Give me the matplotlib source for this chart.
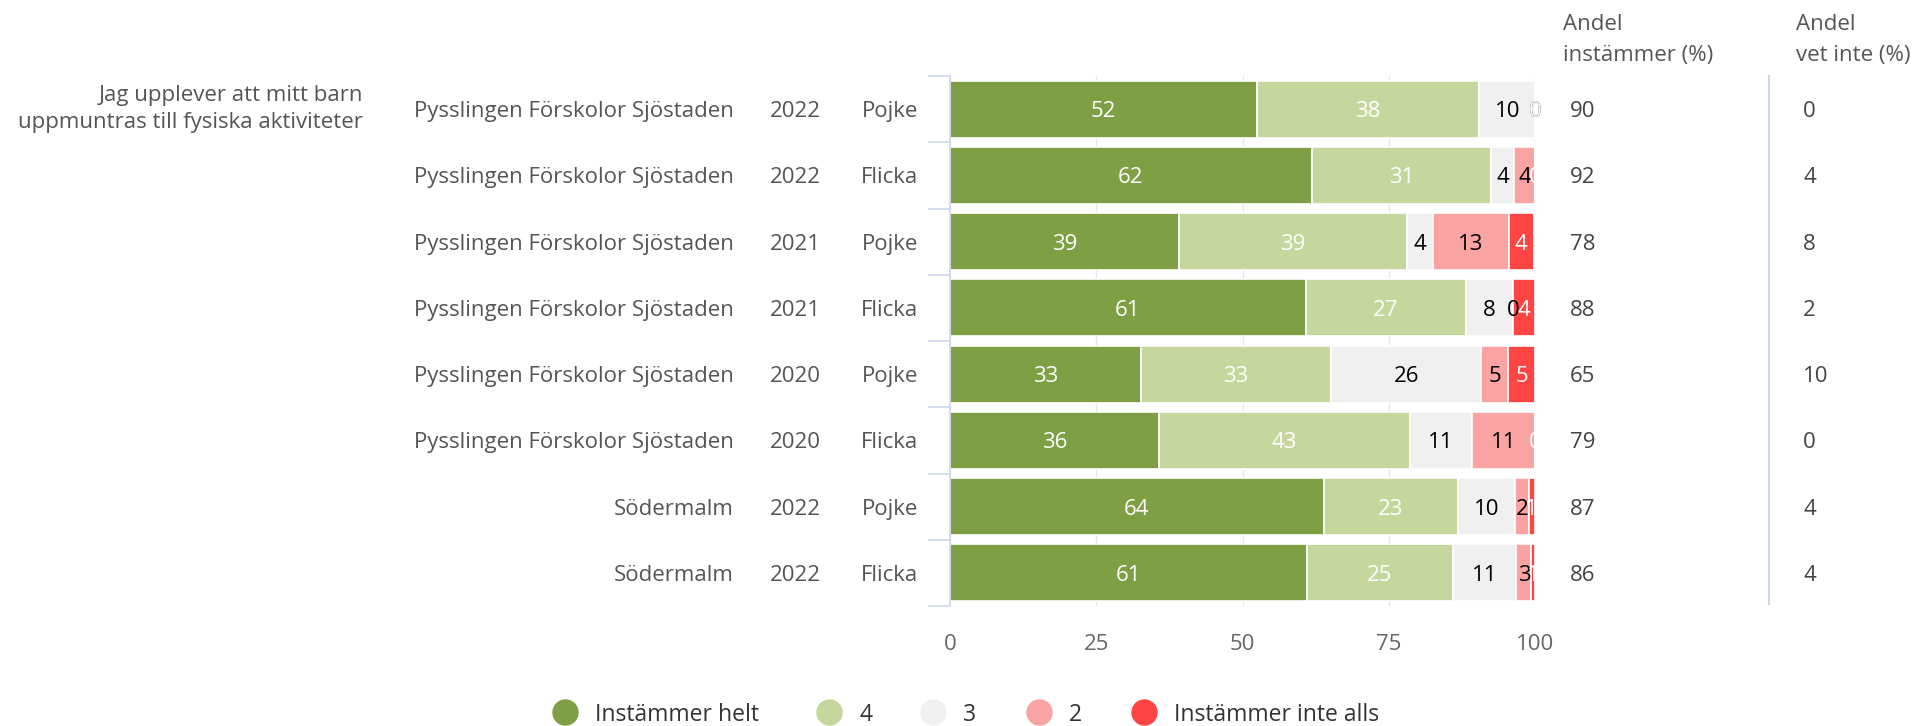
import matplotlib.pyplot as plt
import matplotlib.transforms as mtransforms
from matplotlib.lines import Line2D

## data
question = "Jag upplever att mitt barn\nuppmuntras till fysiska aktiviteter"
units = ["Pysslingen Förskolor Sjöstaden"] * 6 + ["Södermalm"] * 2
years = ["2022", "2022", "2021", "2021", "2020", "2020", "2022", "2022"]
genders = ["Pojke", "Flicka", "Pojke", "Flicka", "Pojke", "Flicka", "Pojke", "Flicka"]

helt = [52.4, 61.8, 39.1, 60.8, 32.6, 35.7, 63.9, 61.0]
fyra = [38.1, 30.7, 39.1, 27.4, 32.6, 42.9, 22.9, 25.0]
tre = [9.5, 3.9, 4.3, 8.1, 25.6, 10.7, 9.8, 10.8]
tva = [0.0, 3.6, 13.0, 0.0, 4.6, 10.7, 2.3, 2.6]
inte = [0.0, 0.0, 4.3, 3.7, 4.6, 0.0, 1.1, 0.6]

helt_lbl = [52, 62, 39, 61, 33, 36, 64, 61]
fyra_lbl = [38, 31, 39, 27, 33, 43, 23, 25]
tre_lbl = [10, 4, 4, 8, 26, 11, 10, 11]
tva_lbl = [0, 4, 13, 0, 5, 11, 2, 3]
inte_lbl = [0, 0, 4, 4, 5, 0, 1, 1]

andel_inst = [90, 92, 78, 88, 65, 79, 87, 86]
andel_vet = [0, 4, 8, 2, 10, 0, 4, 4]

series = ["Instämmer helt", "4", "3", "2", "Instämmer inte alls"]
colors = ["#7f9f45", "#c5d79d", "#f0f0f0", "#f9a3a3", "#ff4444"]
lbl_colors = ["white", "white", "black", "black", "white"]

plt.rcParams['font.family'] = ['Open Sans', 'DejaVu Sans']
FS = 16

W, H = 1925, 726
fig = plt.figure(figsize=(W / 100, H / 100), dpi=100)
ax = fig.add_axes([950 / W, 1 - 606 / H, 585 / W, 530 / H])

n = len(units)
ypos = list(range(n))
left = [0.0] * n
vals = [helt, fyra, tre, tva, inte]
lbls = [helt_lbl, fyra_lbl, tre_lbl, tva_lbl, inte_lbl]
for s, v, lb, c, tc in zip(series, vals, lbls, colors, lbl_colors):
    ax.barh(ypos, v, left=left, height=0.86, color=c, edgecolor="white",
            linewidth=1.2, zorder=2, label=s)
    for i in range(n):
        ax.text(left[i] + v[i] / 2, ypos[i], str(lb[i]), ha="center", va="center_baseline",
                color=tc, fontsize=FS, zorder=3)
    left = [a + b for a, b in zip(left, v)]

ax.set_xlim(0, 100)
ax.set_ylim(n - 0.5, -0.5)
ax.set_xticks([0, 25, 50, 75, 100])
ax.set_yticks([i - 0.5 for i in range(n + 1)])
ax.set_yticklabels([])
ax.tick_params(axis="y", length=16, color="#ccd6eb", width=1.2)
ax.tick_params(axis="x", length=0, labelsize=FS, labelcolor="#666666", pad=20)
ax.grid(axis="x", color="#e6e6e6", linewidth=1, zorder=0)
for sp in ["top", "right", "bottom"]:
    ax.spines[sp].set_visible(False)
ax.spines["left"].set_color("#ccd6eb")
ax.spines["left"].set_linewidth(1.2)

## category text columns
tr = mtransforms.blended_transform_factory(fig.transFigure, ax.transData)
for i in range(n):
    ax.text(734 / W, i, units[i], transform=tr, ha="right", va="center_baseline", fontsize=FS, color="#555555")
    ax.text(821 / W, i, years[i], transform=tr, ha="right", va="center_baseline", fontsize=FS, color="#555555")
    ax.text(918 / W, i, genders[i], transform=tr, ha="right", va="center_baseline", fontsize=FS, color="#555555")
    ax.text(1570 / W, i, str(andel_inst[i]), transform=tr, ha="left", va="center_baseline", fontsize=FS, color="#444444")
    ax.text(1803 / W, i, str(andel_vet[i]), transform=tr, ha="left", va="center_baseline", fontsize=FS, color="#444444")

fig.text(363 / W, 1 - 109 / H, question, ha="right", va="center", fontsize=FS,
         color="#555555", linespacing=1.4)
fig.text(1563 / W, 1 - 40 / H, "Andel\ninstämmer (%)", ha="left", va="center",
         fontsize=FS, color="#555555", linespacing=1.6)
fig.text(1796 / W, 1 - 40 / H, "Andel\nvet inte (%)", ha="left", va="center",
         fontsize=FS, color="#555555", linespacing=1.6)
fig.add_artist(Line2D([1769 / W, 1769 / W], [1 - 76 / H, 1 - 604 / H],
                      transform=fig.transFigure, color="#ccd6eb", linewidth=1.5))

## legend
leg_x = [565, 829, 933, 1039, 1144]
for xm, s, c in zip(leg_x, series, colors):
    fig.add_artist(Line2D([xm / W], [1 - 712 / H], marker="o", markersize=18,
                          markerfacecolor=c, markeredgecolor=c, linestyle="none",
                          transform=fig.transFigure))
    fig.text((xm + 30) / W, 1 - 712 / H, s, ha="left", va="center_baseline", fontsize=16.5, color="#333333")

plt.savefig("out.png")
